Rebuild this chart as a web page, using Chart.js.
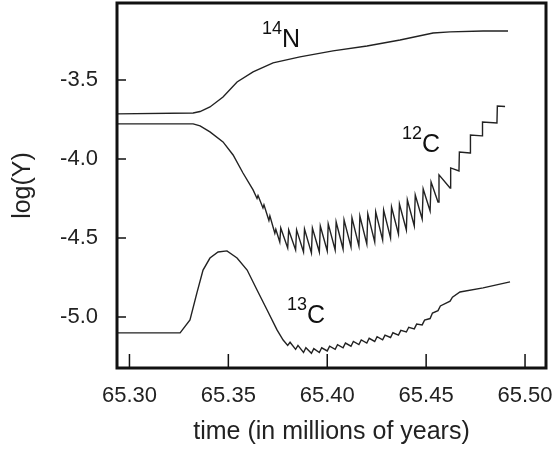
<!DOCTYPE html>
<html>
<head>
<meta charset="utf-8">
<script src="https://cdn.jsdelivr.net/npm/chart.js@4.4.1/dist/chart.umd.min.js"></script>
<style>
	html, body { margin: 0; padding: 0; background: #fff; }
	#wrap { width: 552px; height: 459px; }
</style>
</head>
<body>
<div id="wrap"><canvas id="abundGraph" width="552" height="459"></canvas></div>
<script>

// tick labels
var timeTicks = [65.30, 65.35, 65.40, 65.45, 65.50];
var logTicks = [-5.0, -4.5, -4.0, -3.5];

// 14N
var n14Time = [65.2937, 65.3322, 65.3357, 65.3407, 65.3473, 65.3544, 65.3625, 65.3726, 65.3862, 65.4029, 65.4201, 65.4368, 65.4535, 65.4621, 65.4788, 65.4914];
var n14LogY = [-3.715, -3.709, -3.700, -3.671, -3.608, -3.513, -3.449, -3.392, -3.354, -3.316, -3.285, -3.247, -3.203, -3.196, -3.190, -3.190];

// 12C (sawtooth from the thermal pulses, then steps)
var c12Time = [65.2937, 65.3322, 65.3357, 65.3407, 65.3473, 65.3524, 65.3574, 65.3625, 65.3645, 65.3650, 65.3675, 65.3680, 65.3705, 65.3710, 65.3735, 65.3740,
	65.3760, 65.3765, 65.3800, 65.3805, 65.3840, 65.3845, 65.3880, 65.3885, 65.3920, 65.3925, 65.3960, 65.3965,
	65.4000, 65.4005, 65.4040, 65.4045, 65.4080, 65.4085, 65.4120, 65.4125, 65.4160, 65.4165, 65.4200, 65.4205,
	65.4240, 65.4245, 65.4280, 65.4285, 65.4320, 65.4325, 65.4360, 65.4365, 65.4400, 65.4405, 65.4440, 65.4445,
	65.4480, 65.4485, 65.4520, 65.4525, 65.4560, 65.4565, 65.4621, 65.4624,
	65.4666, 65.4668, 65.4722, 65.4724, 65.4783, 65.4785, 65.4858, 65.4860, 65.4899];
var c12LogY = [-3.778, -3.778, -3.791, -3.829, -3.892, -3.975, -4.089, -4.196, -4.250, -4.232, -4.310, -4.290, -4.390, -4.360, -4.470, -4.445,
	-4.525, -4.437, -4.563, -4.449, -4.576, -4.449, -4.589, -4.443, -4.595, -4.437, -4.589, -4.424,
	-4.582, -4.411, -4.576, -4.399, -4.570, -4.386, -4.557, -4.373, -4.551, -4.361, -4.538, -4.348,
	-4.525, -4.335, -4.513, -4.323, -4.500, -4.304, -4.475, -4.285, -4.449, -4.259, -4.424, -4.228,
	-4.380, -4.190, -4.329, -4.146, -4.272, -4.101, -4.184, -4.057,
	-4.076, -3.956, -3.962, -3.848, -3.854, -3.766, -3.772, -3.665, -3.668];

// 13C
var c13Time = [65.2937, 65.3256, 65.3306, 65.3341, 65.3372, 65.3407, 65.3448, 65.3493, 65.3544, 65.3595, 65.3645, 65.3696, 65.3746, 65.3777,
	65.3800, 65.3812, 65.3840, 65.3852, 65.3880, 65.3892, 65.3920, 65.3932, 65.3960, 65.3972, 65.4000, 65.4012,
	65.4040, 65.4052, 65.4080, 65.4092, 65.4120, 65.4132, 65.4160, 65.4172, 65.4200, 65.4212, 65.4240, 65.4252,
	65.4280, 65.4292, 65.4320, 65.4332, 65.4360, 65.4372, 65.4400, 65.4412, 65.4440, 65.4452, 65.4480, 65.4492,
	65.4520, 65.4532, 65.4560, 65.4572, 65.4621, 65.4633, 65.4671, 65.4788, 65.4924];
var c13LogY = [-5.101, -5.101, -5.019, -4.848, -4.703, -4.627, -4.589, -4.582, -4.627, -4.703, -4.829, -4.956, -5.082, -5.146,
	-5.180, -5.160, -5.205, -5.180, -5.225, -5.195, -5.230, -5.200, -5.225, -5.195, -5.215, -5.185,
	-5.205, -5.175, -5.195, -5.165, -5.185, -5.155, -5.175, -5.145, -5.165, -5.135, -5.155, -5.125,
	-5.145, -5.115, -5.130, -5.100, -5.115, -5.085, -5.095, -5.065, -5.075, -5.045, -5.050, -5.020,
	-5.010, -4.975, -4.960, -4.930, -4.900, -4.875, -4.842, -4.816, -4.778];

// isotope names written next to the curves
var isoMass = ["14", "12", "13"];
var isoSym = ["N", "C", "C"];
var isoAt = [[65.3670, -3.291], [65.4378, -3.956], [65.3797, -5.038]];

var toPoints = function(xs, ys) {
	var pts = [];
	for (var i = 0; i < xs.length; i++) {
		pts.push({ x: xs[i], y: ys[i] });
	}
	return pts;
};

var plain = '"Liberation Sans", Arial, sans-serif';

// frame box, inward ticks and isotope names
var framePlugin = {
	id: 'frame',
	afterDatasetsDraw: function(chart) {
		var ctx = chart.ctx;
		var a = chart.chartArea;
		var xs = chart.scales.x;
		var ys = chart.scales.y;
		ctx.save();
		ctx.strokeStyle = '#111';
		ctx.lineWidth = 1.5;
		ctx.beginPath();
		xs.ticks.forEach(function(t) {
			var px = xs.getPixelForValue(t.value);
			ctx.moveTo(px, a.bottom);
			ctx.lineTo(px, a.bottom - 14);
		});
		ys.ticks.forEach(function(t) {
			var py = ys.getPixelForValue(t.value);
			ctx.moveTo(a.left, py);
			ctx.lineTo(a.left + 9, py);
		});
		ctx.stroke();

		ctx.lineWidth = 3;
		ctx.strokeRect(a.left, a.top, a.right - a.left, a.bottom - a.top);

		ctx.fillStyle = '#111';
		ctx.textBaseline = 'alphabetic';
		for (var i = 0; i < isoMass.length; i++) {
			var px = xs.getPixelForValue(isoAt[i][0]);
			var py = ys.getPixelForValue(isoAt[i][1]);
			ctx.font = '18px ' + plain;
			ctx.fillText(isoMass[i], px, py - 13);
			var w = ctx.measureText(isoMass[i]).width;
			ctx.font = '25px ' + plain;
			ctx.fillText(isoSym[i], px + w, py);
		}
		ctx.restore();
	}
};

var lineSet = function(pts) {
	return {
		data: pts,
		borderColor: '#222',
		borderWidth: 1.4,
		pointRadius: 0,
		tension: 0,
		fill: false
	};
};

var context = document.getElementById("abundGraph").getContext("2d");
var abundChart = new Chart(context, {
	type: 'line',
	data: {
		datasets: [
			lineSet(toPoints(n14Time, n14LogY)),
			lineSet(toPoints(c12Time, c12LogY)),
			lineSet(toPoints(c13Time, c13LogY))
		]
	},
	options: {
		responsive: false,
		animation: false,
		layout: { padding: { top: 3, right: 6, left: 0, bottom: 0 } },
		plugins: {
			legend: { display: false },
			tooltip: { enabled: false }
		},
		scales: {
			x: {
				type: 'linear',
				min: 65.2937,
				max: 65.5106,
				afterBuildTicks: function(scale) {
					scale.ticks = timeTicks.map(function(v) { return { value: v }; });
				},
				afterFit: function(scale) {
					scale.height = 91;
					scale.paddingLeft = 0;
					scale.paddingRight = 0;
				},
				grid: { display: false, drawTicks: false },
				border: { display: false },
				ticks: {
					padding: 15,
					color: '#222',
					maxRotation: 0,
					autoSkip: false,
					font: { family: plain, size: 22 },
					callback: function(v) { return v.toFixed(2); }
				},
				title: {
					display: true,
					text: 'time (in millions of years)',
					color: '#222',
					font: { family: plain, size: 25 },
					padding: { top: 4, bottom: 12 }
				}
			},
			y: {
				type: 'linear',
				min: -5.323,
				max: -3.013,
				afterBuildTicks: function(scale) {
					scale.ticks = logTicks.map(function(v) { return { value: v }; });
				},
				afterFit: function(scale) {
					scale.width = 117;
					scale.paddingTop = 0;
					scale.paddingBottom = 0;
				},
				grid: { display: false, drawTicks: false },
				border: { display: false },
				ticks: {
					padding: 19,
					color: '#222',
					font: { family: plain, size: 22 },
					callback: function(v) { return v.toFixed(1); }
				},
				title: {
					display: true,
					text: 'log(Y)',
					color: '#222',
					font: { family: plain, size: 25 },
					padding: { top: 8, bottom: 0 }
				}
			}
		}
	},
	plugins: [framePlugin]
});

</script>
</body>
</html>
